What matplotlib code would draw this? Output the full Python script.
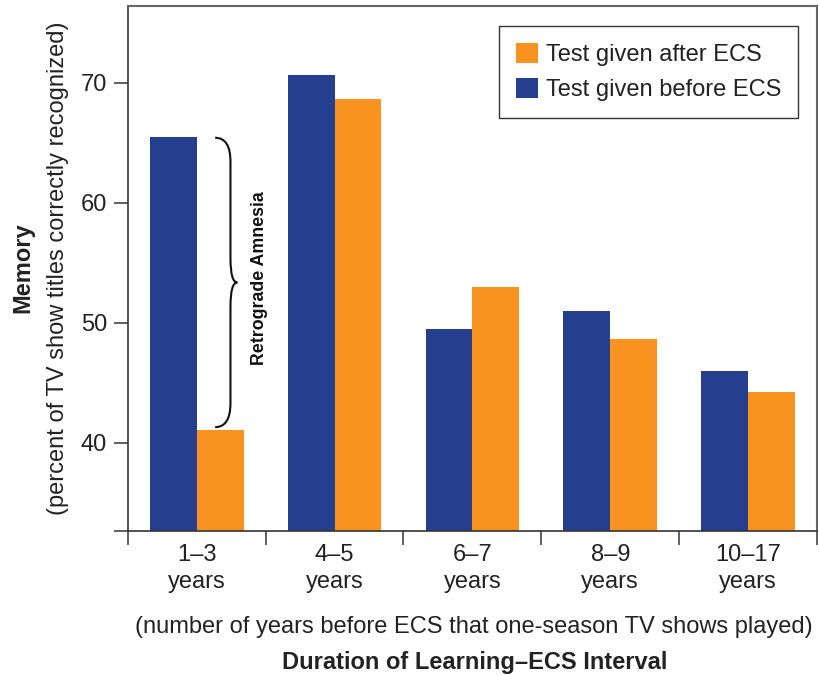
import numpy as np
import matplotlib
matplotlib.use("Agg")
import matplotlib.pyplot as plt
from matplotlib.path import Path
from matplotlib.patches import PathPatch

plt.rcParams['font.family'] = ['Liberation Sans', 'DejaVu Sans']

# data
groups = ["1\u20133\nyears", "4\u20135\nyears", "6\u20137\nyears", "8\u20139\nyears", "10\u201317\nyears"]
before_ecs = [65.5, 70.6, 49.5, 51.0, 46.0]
after_ecs = [41.1, 68.6, 53.0, 48.6, 44.2]

BLUE = "#253F8E"
ORANGE = "#F7931E"
DARK = "#222222"
FS = 17

fig = plt.figure(figsize=(8.19, 6.75), dpi=100)
ax = fig.add_axes([0.156, 0.2133, 0.8416, 0.7783])

x = np.arange(len(groups)) + 0.5
w = 0.34
bb = ax.bar(x - w / 2, before_ecs, w, color=BLUE, label="Test given before ECS")
ba = ax.bar(x + w / 2, after_ecs, w, color=ORANGE, label="Test given after ECS")

ymin, ymax = 32.65, 76.4
ax.set_ylim(ymin, ymax)
ax.set_xlim(0, len(groups))

# y ticks (extra unlabeled tick at the bottom)
ax.set_yticks([ymin, 40, 50, 60, 70], ["", "40", "50", "60", "70"])
ax.tick_params(axis="y", direction="out", length=10, width=1.2, color="#444444",
               labelsize=FS, labelcolor=DARK, pad=5)

# x: boundary ticks without labels, group labels on minor ticks
ax.set_xticks(np.arange(len(groups) + 1), [""] * (len(groups) + 1))
ax.set_xticks(x, groups, minor=True)
ax.tick_params(axis="x", which="major", direction="out", length=10, width=1.2, color="#444444")
ax.tick_params(axis="x", which="minor", length=0, labelsize=FS, labelcolor=DARK, pad=9)
for lbl in ax.get_xticklabels(minor=True):
    lbl.set_linespacing(1.35)

for side in ["top", "right"]:
    ax.spines[side].set_color("#666666")
    ax.spines[side].set_linewidth(1.5)
for side in ["left", "bottom"]:
    ax.spines[side].set_color("#333333")
    ax.spines[side].set_linewidth(1.2)

# legend: after first, then before
leg = ax.legend([ba, bb], ["Test given after ECS", "Test given before ECS"],
                loc="upper right", bbox_to_anchor=(0.9725, 0.9614), borderaxespad=0,
                fontsize=FS, fancybox=False, framealpha=1, edgecolor="#333333",
                handlelength=0.93, handleheight=0.93, handletextpad=0.32,
                labelspacing=0.5, borderpad=0.72)
leg.get_frame().set_linewidth(1.0)
for t in leg.get_texts():
    t.set_color(DARK)

# retrograde amnesia brace between the 1-3 year bars
y_top = before_ecs[0] - 0.1
y_bot = after_ecs[0] + 0.2
y_mid = (y_top + y_bot) / 2
x0, x1, x2 = 0.634, 0.745, 0.795
r = 2.0
verts = [(x0, y_top), (x1, y_top), (x1, y_top - r),
         (x1, y_mid + r),
         (x1, y_mid), (x2, y_mid),
         (x1, y_mid), (x1, y_mid - r),
         (x1, y_bot + r),
         (x1, y_bot), (x0, y_bot)]
codes = [Path.MOVETO, Path.CURVE3, Path.CURVE3,
         Path.LINETO,
         Path.CURVE3, Path.CURVE3,
         Path.CURVE3, Path.CURVE3,
         Path.LINETO,
         Path.CURVE3, Path.CURVE3]
ax.add_patch(PathPatch(Path(verts, codes), facecolor="none", edgecolor="#111111", lw=1.5))
ax.text(0.955, y_mid + 0.4, "Retrograde Amnesia", rotation=90, ha="center", va="center",
        fontsize=12.8, fontweight="bold", color="#111111")

# axis titles
fig.text(0.028, 0.603, "Memory", rotation=90, ha="center", va="center",
         fontsize=FS, fontweight="bold", color=DARK)
fig.text(0.071, 0.603, "(percent of TV show titles correctly recognized)", rotation=90,
         ha="center", va="center", fontsize=FS, color=DARK)
fig.text(0.579, 0.071, "(number of years before ECS that one-season TV shows played)",
         ha="center", va="center", fontsize=FS, color=DARK)
fig.text(0.579, 0.019, "Duration of Learning\u2013ECS Interval",
         ha="center", va="center", fontsize=FS, fontweight="bold", color=DARK)

fig.savefig("out.png", dpi=100)
